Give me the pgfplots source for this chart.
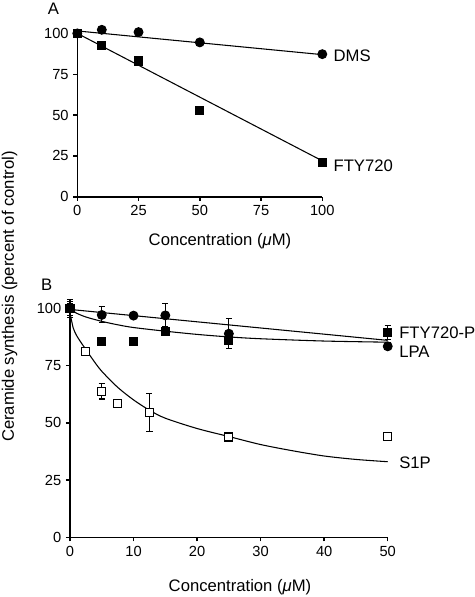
\documentclass[border=0pt]{standalone}
\usepackage{fontspec}
\setmainfont{Liberation Sans}
\usepackage{pgfplots}
\pgfplotsset{compat=1.18}
\pgfplotsset{
  myax/.style={
    scale only axis, axis lines=left,
    axis line style={-, line width=1.1pt},
    tick style={line width=1.1pt, black},
    tick align=outside, major tick length=3pt,
    clip=false,
    ymin=0, ymax=100, ytick={0,25,50,75,100},
    tick label style={font=\fontsize{11}{13}\selectfont},
    /pgf/number format/assume math mode=true,
    every axis plot/.append style={line width=0.8pt},
  },
  cmark/.style={only marks, mark=*, mark size=3.3pt, mark options={fill=black, draw=black}},
  smark/.style={only marks, mark=square*, mark size=3pt, mark options={fill=black, draw=black}},
  omark/.style={only marks, mark=square*, mark size=3pt, mark options={fill=white, draw=black, line width=0.8pt}},
  ebar/.style={error bars/.cd, y dir=both, y explicit,
    error bar style={line width=0.8pt, black},
    error mark options={line width=0.8pt, mark size=2.3pt, black, rotate=90}},
}
\begin{document}
\begin{tikzpicture}[x=1pt,y=1pt]
\useasboundingbox (0,0) rectangle (356.25,447.75);
% Panel A
\begin{axis}[myax, at={(57.98pt,300.15pt)}, anchor=south west,
  width=183.75pt, height=122.55pt,
  xmin=0, xmax=100, xtick={0,25,50,75,100}]
\addplot[black, no marks] coordinates {(0,101.5) (100,87)};
\addplot[black, no marks] coordinates {(0,100) (100,22)};
\addplot[smark] coordinates {(0,100) (10,92.4) (25,83.1) (50,52.7) (100,21)};
\addplot[cmark] coordinates {(0,100) (10,102.2) (25,100.8) (50,94.5) (100,87.3)};
\end{axis}
% Panel B
\begin{axis}[myax, at={(52.5pt,44.78pt)}, anchor=south west,
  width=238.3pt, height=171.75pt,
  xmin=0, xmax=50, xtick={0,10,20,30,40,50}]
\addplot[black, no marks] coordinates {(0,99.5) (50,86)};
\addplot[black, no marks, smooth] coordinates {(0,100) (0.5,98.8) (1,97.9) (2.5,96.2) (5,94.3) (7.5,92.8) (10,91.6) (15,90) (20,88.6) (25,87.5) (30,86.7) (40,85.7) (50,85.2)};
\addplot[black, no marks, smooth] coordinates {(0,98) (0.5,91.5) (1,88.3) (1.75,85) (2.5,82) (3.75,77) (5,72.5) (7.5,65.5) (10,60) (12.5,55.5) (15,52) (20,47.5) (25,44) (30,40.5) (35,37.8) (40,35.5) (45,34) (50,33)};
% S1P
\addplot[omark, ebar] coordinates {(0,100) +- (0,3) (2.5,81.2) +- (0,1) (5,63.8) +- (0,3.4) (7.5,58.6) +- (0,1.5) (12.5,54.4) +- (0,8.2) (25,43.8) +- (0,1.5) (50,44.1) +- (0,1.5)};
% FTY720-P
\addplot[smark, ebar] coordinates {(0,100) +- (0,2) (5,85.4) +- (0,0) (10,85.4) +- (0,0) (15,89.8) +- (0,1) (25,85.9) +- (0,1) (50,89.5) +- (0,3)};
% LPA
\addplot[cmark, ebar] coordinates {(0,100) +- (0,4) (5,97.1) +- (0,3.5) (10,96.8) +- (0,0.5) (15,96.9) +- (0,5) (25,88.9) +- (0,6.6) (50,83.4) +- (0,1.5)};
\end{axis}
% Text
\node[font=\fontsize{12.5}{14}\selectfont] at (40.1,441) {A};
\node[font=\fontsize{12.5}{14}\selectfont] at (35,234) {B};
\node[font=\fontsize{12.5}{14}\selectfont] at (165,266.5) {Concentration (\textit{μ}M)};
\node[font=\fontsize{12.5}{14}\selectfont] at (180,7.5) {Concentration (\textit{μ}M)};
\node[font=\fontsize{12.5}{14}\selectfont, rotate=90] at (7.1,225.4) {Ceramide synthesis (percent of control)};
\node[font=\fontsize{12.5}{14}\selectfont, anchor=west, inner sep=0] at (250,405.75) {DMS};
\node[font=\fontsize{12.5}{14}\selectfont, anchor=west, inner sep=0] at (250,323.25) {FTY720};
\node[font=\fontsize{12.5}{14}\selectfont, anchor=west, inner sep=0] at (299.25,198) {FTY720-P};
\node[font=\fontsize{12.5}{14}\selectfont, anchor=west, inner sep=0] at (299.25,184) {LPA};
\node[font=\fontsize{12.5}{14}\selectfont, anchor=west, inner sep=0] at (299.25,100.9) {S1P};
\end{tikzpicture}
\end{document}
